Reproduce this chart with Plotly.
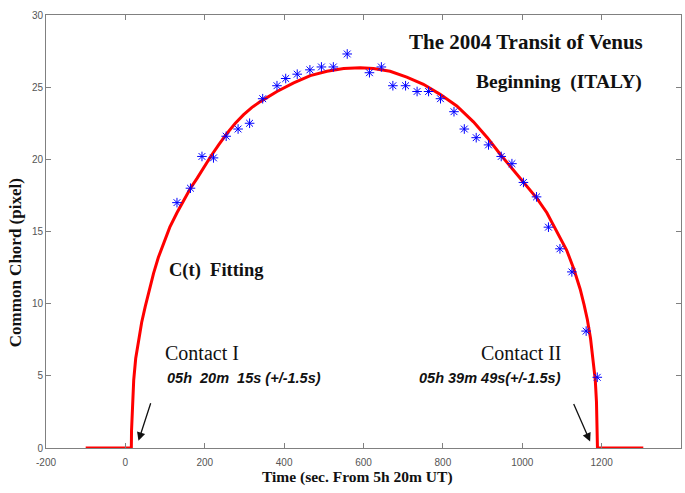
import plotly.graph_objects as go

# Observed common chord (pixel) vs time (s from 5h20m UT)
obs_t = [130, 164, 193, 222, 254, 284, 313, 346, 382, 404, 433, 465, 494, 524, 559,
         615, 645, 674, 706, 735, 764, 794, 828, 854, 884, 915, 947, 974,
         1003, 1036, 1066, 1095, 1125, 1161, 1189]
obs_c = [17.0, 18.0, 20.2, 20.1, 21.6, 22.1, 22.5, 24.2, 25.1, 25.6, 25.9, 26.2, 26.4, 26.4, 27.3,
         26.0, 26.4, 25.1, 25.1, 24.7, 24.7, 24.2, 23.3, 22.1, 21.5, 21.0, 20.2, 19.7,
         18.4, 17.4, 15.3, 13.8, 12.2, 8.1, 4.9]

# Fitted C(t) curve
fit_t = [-100, 15, 15.5, 17, 19, 21, 26, 33, 41, 50, 60, 71, 83, 96, 112, 130, 147, 164, 181,
         198, 215, 235, 256, 277, 298, 319, 340, 382, 424, 466, 508, 550, 592, 625, 667, 709, 751, 793, 835,
         877, 912, 946, 980, 1011, 1037, 1062, 1088, 1112, 1130, 1146, 1156, 1164, 1172,
         1179, 1184, 1187, 1189, 1189.5, 1305]
fit_c = [0, 0, 1.2, 2.4, 3.6, 4.7, 6.2, 7.5, 8.7, 9.8, 11.0, 12.1, 13.2, 14.2, 15.3, 16.3, 17.2, 18.0, 18.7,
         19.5, 20.2, 21.0, 21.8, 22.5, 23.1, 23.6, 24.0, 24.7, 25.3, 25.8, 26.1, 26.3, 26.35, 26.3, 26.1, 25.7, 25.2, 24.5, 23.7,
         22.6, 21.5, 20.3, 19.2, 18.2, 17.3, 16.3, 15.0, 13.7, 12.4, 11.0, 9.9, 8.9, 7.6,
         6.1, 4.7, 3.2, 1.6, 0, 0]

x_ticks = [-200, 0, 200, 400, 600, 800, 1000, 1200, 1400]
y_ticks = [0, 5, 10, 15, 20, 25, 30]

serif = "Liberation Serif"
sans = "Liberation Sans"

fig = go.Figure()
fig.add_trace(go.Scatter(x=fit_t, y=fit_c, mode="lines",
                         line=dict(color="#ff0000", width=3), showlegend=False))
fig.add_trace(go.Scatter(x=obs_t, y=obs_c, mode="markers",
                         marker=dict(symbol="asterisk-open", size=8, color="#0000ff",
                                     line=dict(color="#0000ff", width=1)),
                         showlegend=False))

def txt(x, y, s, size, anchor, bold=True, italic=False, font=serif, xref="x", yref="y", angle=0):
    t = s
    if bold:
        t = "<b>" + t + "</b>"
    if italic:
        t = "<i>" + t + "</i>"
    fig.add_annotation(x=x, y=y, xref=xref, yref=yref, text=t, showarrow=False,
                       xanchor=anchor, yanchor="middle", textangle=angle,
                       font=dict(family=font, size=size, color="#111111"))

txt(1309, 28.15, "The 2004 Transit of Venus", 21, "right")
txt(1306, 25.35, "Beginning&nbsp;&nbsp;(ITALY)", 19.5, "right")
txt(106, 12.3, "C(t)&nbsp;&nbsp;Fitting", 18.5, "left")
txt(94, 6.6, "Contact I", 20, "left", bold=False)
txt(1106, 6.6, "Contact II", 20, "right", bold=False)
txt(99, 4.85, "05h&nbsp;&nbsp;20m&nbsp;&nbsp;15s (+/-1.5s)", 14.5, "left", italic=True, font=sans)
txt(1103, 4.85, "05h 39m 49s(+/-1.5s)", 14.5, "right", italic=True, font=sans)

# axis titles
txt(0.49, -0.068, "Time (sec. From 5h 20m UT)", 15.5, "center", xref="paper", yref="paper")
txt(-0.048, 0.428, "Common Chord (pixel)", 17, "center", xref="paper", yref="paper", angle=-90)

for (hx, hy, tx, ty) in [(33, 0.5, 65, 3.2), (1171, 0.45, 1128, 3.15)]:
    fig.add_annotation(x=hx, y=hy, ax=tx, ay=ty, xref="x", yref="y", axref="x", ayref="y",
                       text="", showarrow=True, arrowhead=2, arrowsize=1.3,
                       arrowwidth=1.3, arrowcolor="#111111")

axis_common = dict(showgrid=False, zeroline=False, showline=True, linecolor="#808080",
                   linewidth=1, mirror="ticks", ticks="inside", ticklen=5, automargin=False,
                   tickcolor="#808080", tickfont=dict(family=sans, size=10, color="#555555"))

fig.update_xaxes(range=[-200, 1400], tickvals=x_ticks, ticklabelstandoff=5,
                 ticktext=[str(v) for v in x_ticks], **axis_common)
fig.update_yaxes(range=[0, 30], tickvals=y_ticks, **axis_common)

fig.update_layout(width=685, height=493, plot_bgcolor="white", paper_bgcolor="white",
                  margin=dict(l=46, r=4, t=15, b=45))

fig.write_html("out.html", config={"displayModeBar": False},
               post_script="document.body.style.margin='0';document.body.style.padding='0';"
                           "document.documentElement.style.overflow='hidden';")
